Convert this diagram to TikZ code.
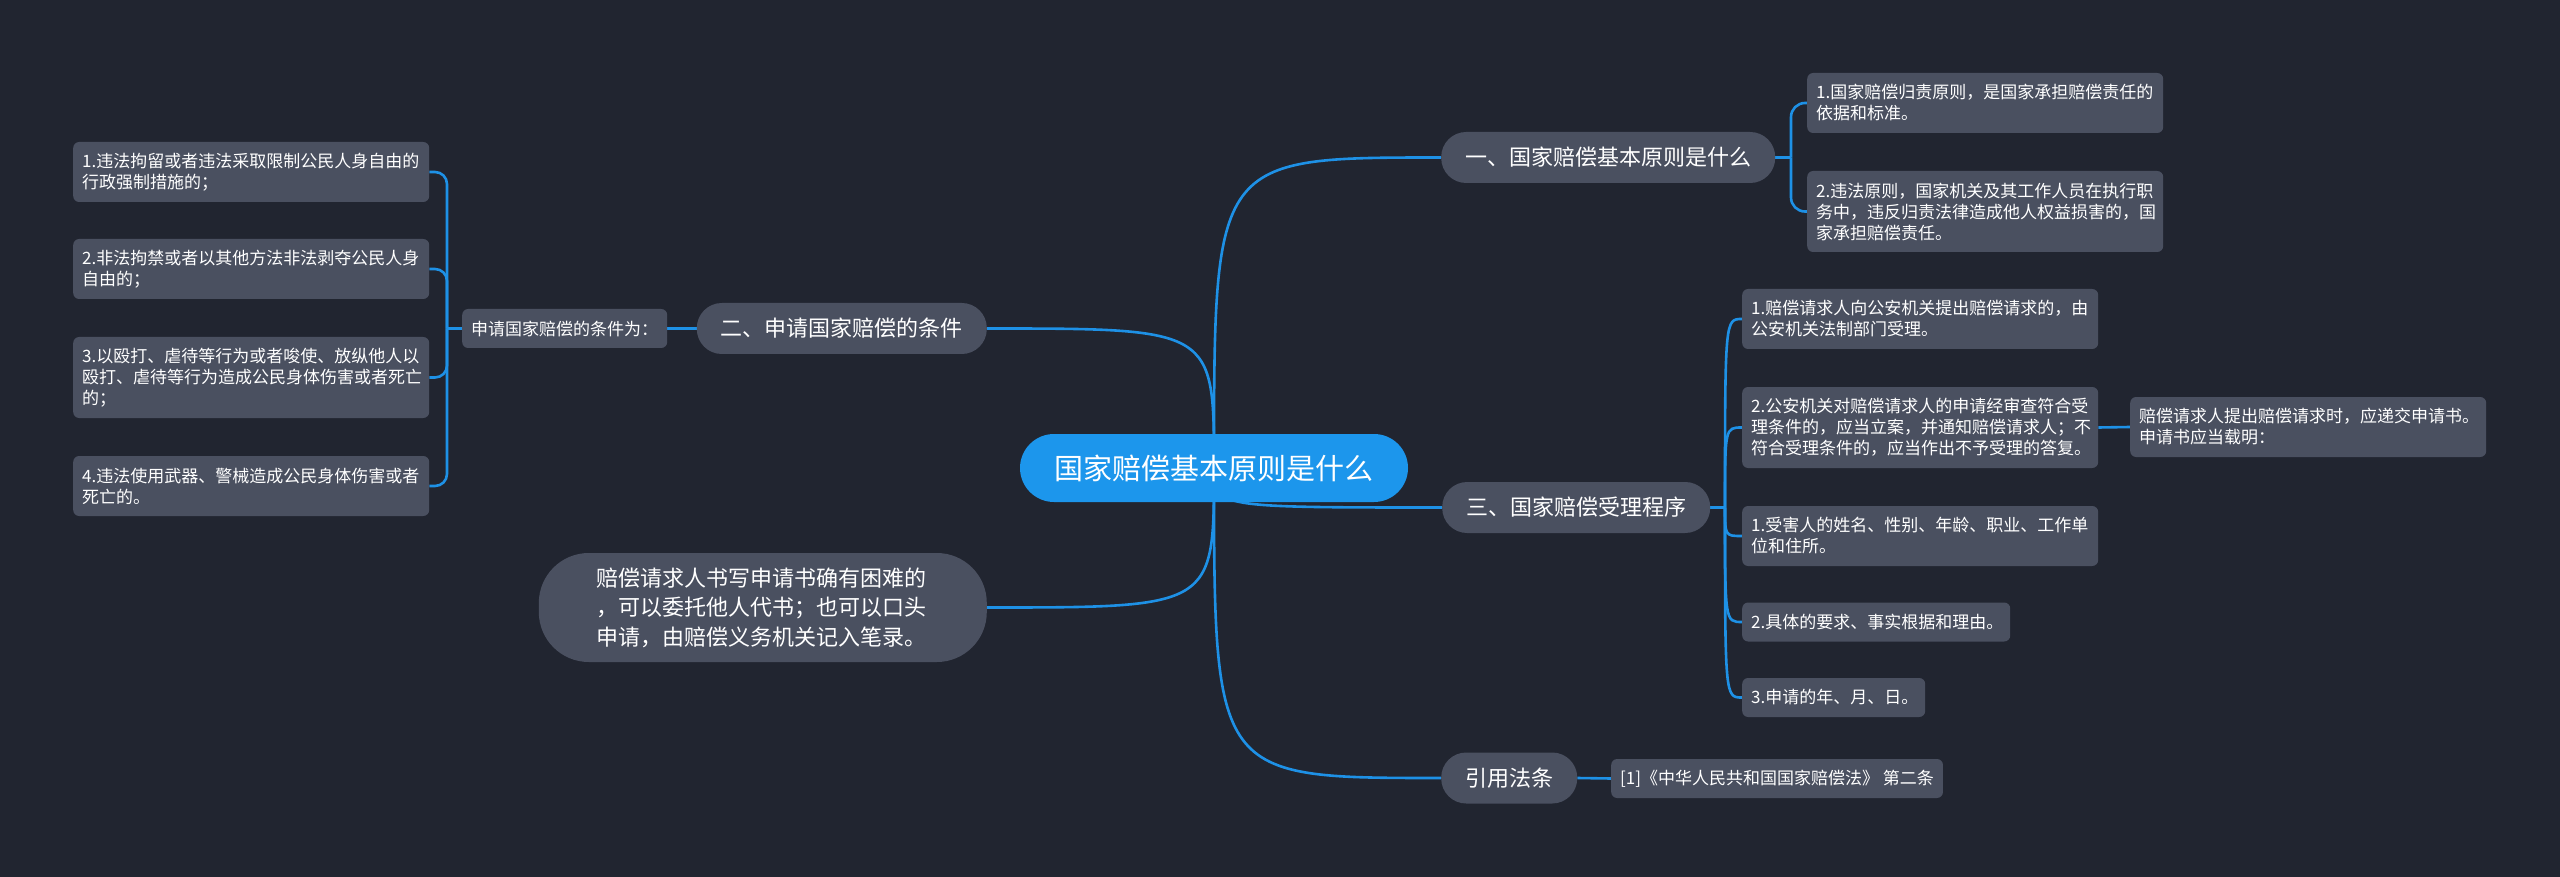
\documentclass[tikz,border=0pt]{standalone}
\usepackage{fontspec}
\newfontfamily\cjk{Noto Sans CJK SC}
\definecolor{bgc}{RGB}{33,37,48}
\definecolor{nodec}{RGB}{74,80,96}
\definecolor{linec}{RGB}{30,145,230}
\definecolor{rootc}{RGB}{28,150,236}
\pgfdeclarelayer{bg}
\pgfsetlayers{bg,main}
\tikzset{
  rootnode/.style={fill=rootc, rounded corners=34pt, minimum width=388pt, minimum height=68pt,
    inner sep=0pt, text=white, font=\cjk\fontsize{29}{34}\selectfont},
  topic/.style={fill=nodec, rounded corners=25pt, minimum height=51pt, inner xsep=24pt,
    inner ysep=0pt, text=white, font=\cjk\fontsize{22}{29}\selectfont},
  bignote/.style={fill=nodec, rounded corners=50pt, minimum width=448pt, minimum height=109pt,
    inner sep=0pt, text width=332pt, align=left, text=white, font=\cjk\fontsize{22}{29.5}\selectfont},
  leaf/.style={fill=nodec, rounded corners=6pt, inner xsep=9pt, inner ysep=0pt, align=left,
    text=white, font=\cjk\fontsize{17}{21}\selectfont},
  one/.style={minimum height=39pt},
  two/.style={minimum height=60pt},
  three/.style={minimum height=81pt},
  link/.style={draw=linec, line width=2.6pt},
}
\begin{document}
\begin{tikzpicture}[x=1pt,y=-1pt]
\begin{pgfonlayer}{bg}
  \fill[bgc] (0,0) rectangle (2560,877);
\end{pgfonlayer}
\useasboundingbox (0,0) rectangle (2560,877);

% root
\node[rootnode] (root) at (1214,468) {国家赔偿基本原则是什么};

% level 1
\node[topic, anchor=west] (t1) at (1441,157.5) {一、国家赔偿基本原则是什么};
\node[topic, anchor=east] (t2) at (987,328.5) {二、申请国家赔偿的条件};
\node[topic, anchor=west] (t3) at (1442,507.5) {三、国家赔偿受理程序};
\node[topic, anchor=west] (t4) at (1441,778) {引用法条};
\node[bignote, anchor=east] (bt) at (987,607.5) {赔偿请求人书写申请书确有困难的\\，可以委托他人代书；也可以口头\\申请，由赔偿义务机关记入笔录。};

% left branch
\node[leaf, one, anchor=west, minimum width=203pt] (c2) at (462,328.5) {申请国家赔偿的条件为：};
\node[leaf, two, anchor=west, text width=338pt] (l1) at (73,172) {1.违法拘留或者违法采取限制公民人身自由的\\行政强制措施的；};
\node[leaf, two, anchor=west, text width=338pt] (l2) at (73,269) {2.非法拘禁或者以其他方法非法剥夺公民人身\\自由的；};
\node[leaf, three, anchor=west, text width=338pt] (l3) at (73,377.5) {3.以殴打、虐待等行为或者唆使、放纵他人以\\殴打、虐待等行为造成公民身体伤害或者死亡\\的；};
\node[leaf, two, anchor=west, text width=338pt] (l4) at (73,486) {4.违法使用武器、警械造成公民身体伤害或者\\死亡的。};

% branch one
\node[leaf, two, anchor=west, text width=338pt] (a1) at (1807,103) {1.国家赔偿归责原则，是国家承担赔偿责任的\\依据和标准。};
\node[leaf, three, anchor=west, text width=338pt] (a2) at (1807,211.5) {2.违法原则，国家机关及其工作人员在执行职\\务中，违反归责法律造成他人权益损害的，国\\家承担赔偿责任。};

% branch three
\node[leaf, two, anchor=west, text width=338pt] (b1) at (1742,319) {1.赔偿请求人向公安机关提出赔偿请求的，由\\公安机关法制部门受理。};
\node[leaf, three, anchor=west, text width=338pt] (b2) at (1742,427.5) {2.公安机关对赔偿请求人的申请经审查符合受\\理条件的，应当立案，并通知赔偿请求人；不\\符合受理条件的，应当作出不予受理的答复。};
\node[leaf, two, anchor=west, text width=338pt] (b3) at (1742,536) {1.受害人的姓名、性别、年龄、职业、工作单\\位和住所。};
\node[leaf, one, anchor=west, text width=250pt] (b4) at (1742,622) {2.具体的要求、事实根据和理由。};
\node[leaf, one, anchor=west, text width=165pt] (b5) at (1742,697.5) {3.申请的年、月、日。};
\node[leaf, two, anchor=west, text width=338pt] (d1) at (2130,427) {赔偿请求人提出赔偿请求时，应递交申请书。\\申请书应当载明：};

% citation
\node[leaf, one, anchor=west, minimum width=331pt] (r1) at (1611,778.5) {[1]《中华人民共和国国家赔偿法》 第二条};

% junctions
\coordinate (jL) at (447,328.5);
\coordinate (j1) at (1791,157.5);
\coordinate (j3) at (1725,507.5);

\begin{pgfonlayer}{bg}
  % root curves
  \draw[link] (root.center) .. controls (root.center |- t1.west) .. (t1.west);
  \draw[link] (root.center) .. controls (root.center |- t3.west) .. (t3.west);
  \draw[link] (root.center) .. controls (root.center |- t4.west) .. (t4.west);
  \draw[link] (root.center) .. controls (root.center |- t2.east) .. (t2.east);
  \draw[link] (root.center) .. controls (root.center |- bt.east) .. (bt.east);
  % left
  \draw[link] (t2.west) -- (c2.east);
  \draw[link] (c2.west) -- (jL);
  \foreach \n in {l1,l2,l3,l4} \draw[link, rounded corners=12pt] (jL) |- (\n.east);
  % one
  \draw[link] (t1.east) -- (j1);
  \foreach \n in {a1,a2} \draw[link, rounded corners=14pt] (j1) |- (\n.west);
  % three
  \draw[link] (t3.east) -- (j3);
  \foreach \n in {b1,b2,b3,b4,b5} \draw[link] (j3) .. controls (j3 |- \n.west) .. (\n.west);
  \draw[link] (b2.east) -- (d1.west);
  % citation
  \draw[link] (t4.east) -- (r1.west);
\end{pgfonlayer}
\end{tikzpicture}
\end{document}
